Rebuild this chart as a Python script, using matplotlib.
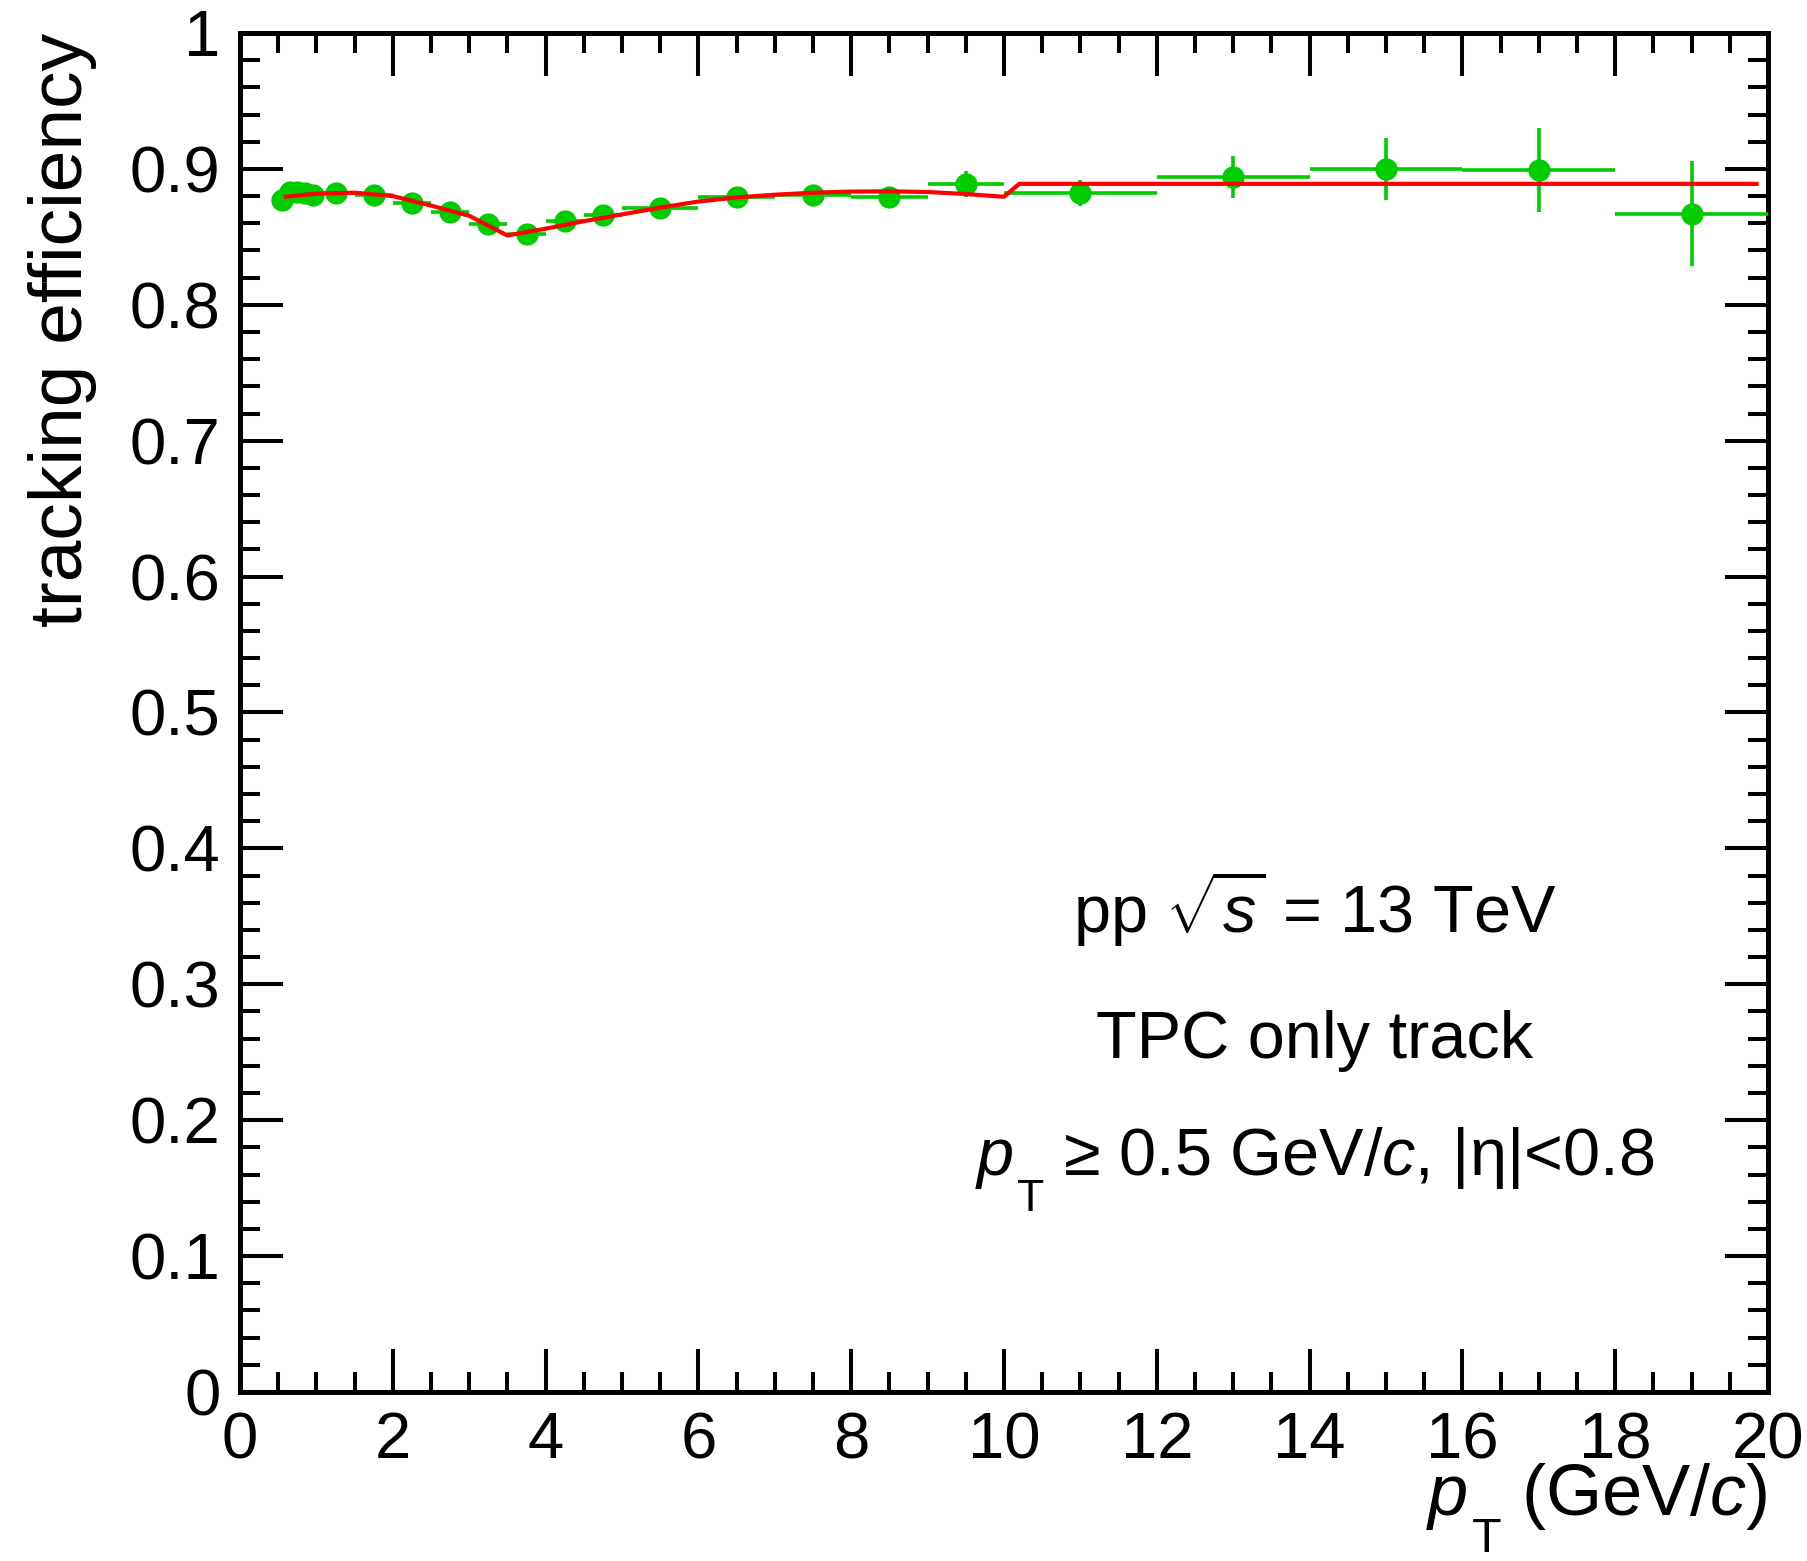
import matplotlib
matplotlib.use("Agg")
import matplotlib.pyplot as plt
from matplotlib.ticker import MultipleLocator, FuncFormatter
from matplotlib.transforms import IdentityTransform

plt.rcParams['font.family'] = ['Liberation Sans', 'DejaVu Sans']
plt.rcParams['mathtext.fontset'] = 'custom'
plt.rcParams['mathtext.rm'] = 'Liberation Sans'
plt.rcParams['mathtext.it'] = 'Liberation Sans:italic'

# efficiency points (bin centres, half widths, values, errors)
pt = [0.55, 0.65, 0.75, 0.85, 0.95, 1.25, 1.75, 2.25, 2.75, 3.25, 3.75, 4.25, 4.75,
      5.5, 6.5, 7.5, 8.5, 9.5, 11, 13, 15, 17, 19]
pt_err = [0.05, 0.05, 0.05, 0.05, 0.05, 0.25, 0.25, 0.25, 0.25, 0.25, 0.25, 0.25, 0.25,
          0.5, 0.5, 0.5, 0.5, 0.5, 1, 1, 1, 1, 1]
eff = [0.877, 0.883, 0.883, 0.882, 0.8805, 0.8825, 0.881, 0.875, 0.8685, 0.8595, 0.852,
       0.8615, 0.866, 0.871, 0.8795, 0.8805, 0.8795, 0.889, 0.8825, 0.894, 0.900, 0.899, 0.867]
eff_err = [0.001, 0.001, 0.001, 0.001, 0.001, 0.001, 0.001, 0.0015, 0.0015, 0.0015, 0.002,
           0.002, 0.002, 0.002, 0.003, 0.003, 0.004, 0.0095, 0.0095, 0.0157, 0.0228, 0.031, 0.0385]

# fit curve
fit_pt = [0.6, 1.0, 1.5, 2.0, 2.5, 3.0, 3.5, 4.0, 4.5, 5.0, 5.5, 6.0, 6.5, 7.0, 7.5,
          8.0, 8.5, 9.0, 9.5, 10.0, 10.2, 19.85]
fit_eff = [0.8795, 0.8818, 0.8825, 0.880, 0.873, 0.8655, 0.851, 0.856, 0.8615, 0.8665,
           0.8715, 0.876, 0.879, 0.881, 0.8825, 0.8833, 0.8835, 0.883, 0.8815, 0.8795,
           0.889, 0.889]

fig = plt.figure(figsize=(18.08, 15.61), dpi=100)
ax = fig.add_axes([240/1808, 1 - 1392/1561, (1768-240)/1808, (1392-33)/1561])

green = '#00cc00'
ax.errorbar(pt, eff, xerr=pt_err, yerr=eff_err, fmt='o', color=green, ms=15,
            elinewidth=2.6, capsize=0, zorder=3)
ax.plot(fit_pt, fit_eff, color='#ff0000', lw=3.0, zorder=4)

ax.set_xlim(0, 20)
ax.set_ylim(0, 1)
ax.xaxis.set_major_locator(MultipleLocator(2))
ax.xaxis.set_minor_locator(MultipleLocator(0.5))
ax.yaxis.set_major_locator(MultipleLocator(0.1))
ax.yaxis.set_minor_locator(MultipleLocator(0.02))
ax.xaxis.set_major_formatter(FuncFormatter(lambda v, p: '%g' % v))
ax.yaxis.set_major_formatter(FuncFormatter(lambda v, p: '%g' % v))

ax.tick_params(which='both', direction='in', top=True, right=True, width=2.9,
               labelsize=47, pad=14)
ax.tick_params(which='major', length=31)
ax.tick_params(which='minor', length=14.5)
for s in ax.spines.values():
    s.set_linewidth(3.6)

renderer = fig.canvas.get_renderer()


def root_pt(xpix, ypix, rest, size, ha='center', gap=4):
    # ROOT style p_{T}: italic p, lowered T, then the rest of the string
    tr = IdentityTransform()
    t1 = fig.text(0, 0, 'p', style='italic', fontsize=size, transform=tr, va='baseline')
    t2 = fig.text(0, 0, 'T', fontsize=size * 0.67, transform=tr, va='baseline')
    t3 = fig.text(0, 0, rest, fontsize=size, transform=tr, va='baseline')
    w1 = t1.get_window_extent(renderer).width
    w2 = t2.get_window_extent(renderer).width
    w3 = t3.get_window_extent(renderer).width
    total = w1 + 4 + w2 + w3
    x0 = xpix - total / 2 if ha == 'center' else xpix - total
    t_cap = 0.716 * size * 0.67 * 100 / 72
    t1.set_position((x0, ypix))
    t2.set_position((x0 + w1 + 4, ypix - gap - t_cap))
    t3.set_position((x0 + w1 + 4 + w2, ypix))


# x axis label, y axis label
root_pt(1768, 1561 - 1515, r' (GeV/$c$)', 52, ha='right', gap=2)
fig.text(63/1808, 1 - 33/1561, 'tracking efficiency', rotation=90, ha='center', va='top', fontsize=54)

# annotations
cx = 1315
fig.text(cx, 1561 - 932, r'pp $\sqrt{s}$ = 13 TeV', ha='center', va='baseline', fontsize=48,
         transform=IdentityTransform())
fig.text(cx, 1561 - 1058, 'TPC only track', ha='center', va='baseline', fontsize=48,
         transform=IdentityTransform())
root_pt(cx, 1561 - 1175, r' ≥ 0.5 GeV/$c$, |η|<0.8', 48)

fig.savefig('out.png', dpi=100)
